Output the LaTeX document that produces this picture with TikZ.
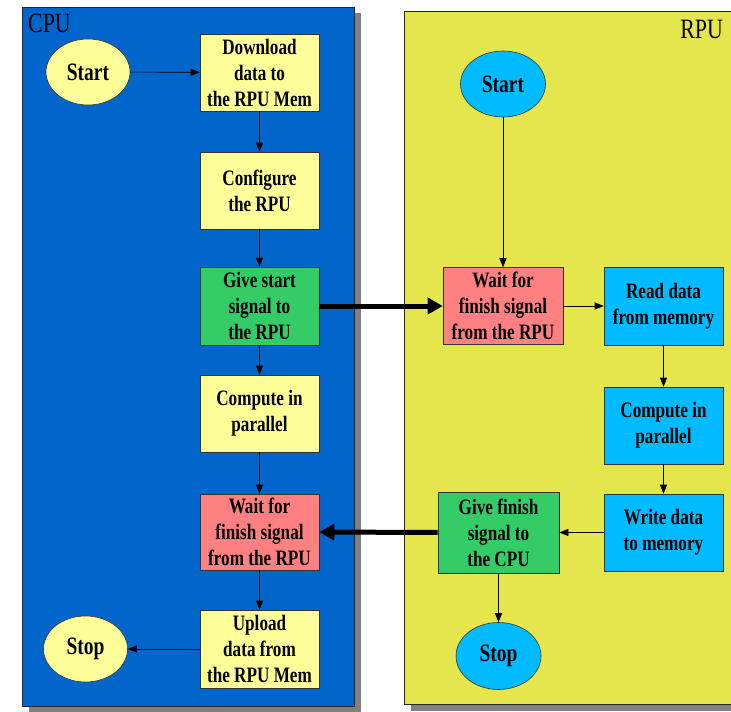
\documentclass[tikz,border=0pt]{standalone}
\usepackage{fontspec}
\setmainfont{Liberation Serif}[FakeStretch=0.78]
\usetikzlibrary{arrows.meta,shapes.geometric}

\definecolor{cpublue}{RGB}{0,102,204}
\definecolor{rpuyellow}{RGB}{229,229,76}
\definecolor{paleyellow}{RGB}{255,255,153}
\definecolor{stepgreen}{RGB}{51,204,102}
\definecolor{steppink}{RGB}{255,128,128}
\definecolor{stepcyan}{RGB}{0,187,255}
\definecolor{shadowgray}{RGB}{128,128,128}

\tikzset{
  boxtext/.style={font=\fontsize{22}{26}\selectfont\bfseries, align=center, inner sep=0pt},
  stepbox/.style={boxtext, draw=black!80, line width=0.6pt, rectangle,
    minimum width=119pt, minimum height=77pt},
  oval/.style={boxtext, draw=black!80, line width=0.6pt, ellipse,
    minimum width=84pt, minimum height=66pt, font=\fontsize{25}{28}\selectfont\bfseries},
  flow/.style={draw=black, line width=0.6pt, -{Triangle[length=9pt,width=7pt]}},
  signal/.style={draw=black, line width=5pt, -{Triangle[length=15pt,width=16pt]}},
  panel/.style={draw=black!85, line width=0.6pt},
  paneltitle/.style={font=\fontsize{28}{30}\selectfont, inner sep=0pt}
}

\begin{document}
\begin{tikzpicture}[x=1pt,y=-1pt]
\useasboundingbox (0,0) rectangle (731,712);

% processor panels with drop shadows
\fill[shadowgray] (29,13) rectangle (361,712);
\fill[cpublue] (22,7) rectangle (354,706);
\draw[panel] (22,7) rectangle (354,706);
\fill[shadowgray] (411,17) rectangle (740,711);
\fill[rpuyellow] (404,11) rectangle (740,704);
\draw[panel] (404,11) -- (404,704) -- (740,704);
\draw[panel] (404,11) -- (740,11);

\node[paneltitle, anchor=north west] (cputitle) at (28,14) {CPU};
\node[paneltitle, anchor=north east] (rputitle) at (723,20) {RPU};

% host side
\node[oval, fill=paleyellow] (cstart) at (88,72) {Start};
\node[stepbox, fill=paleyellow] (dl) at (259.5,72.5) {Download\\data to\\the RPU Mem};
\node[stepbox, fill=paleyellow] (cfg) at (259.5,190.5) {Configure\\the RPU};
\node[stepbox, fill=stepgreen, minimum height=78pt] (gs) at (259.5,306) {Give start\\signal to\\the RPU};
\node[stepbox, fill=paleyellow] (ccmp) at (259.5,413.5) {Compute in\\parallel};
\node[stepbox, fill=steppink, minimum height=76pt] (cwait) at (259.5,532) {Wait for\\finish signal\\from the RPU};
\node[stepbox, fill=paleyellow, minimum height=78pt] (up) at (259.5,649) {Upload\\data from\\the RPU Mem};
\node[oval, fill=paleyellow] (cstop) at (85.5,649) {Stop};

% accelerator side
\node[oval, fill=stepcyan, minimum width=85pt] (rstart) at (503,84) {Start};
\node[stepbox, fill=steppink, minimum width=120pt] (rwait) at (503,306) {Wait for\\finish signal\\from the RPU};
\node[stepbox, fill=stepcyan, minimum height=78pt] (rd) at (663.5,306) {Read data\\from memory};
\node[stepbox, fill=stepcyan] (rcmp) at (663.5,425.5) {Compute in\\parallel};
\node[stepbox, fill=stepcyan] (wr) at (663.5,532.5) {Write data\\to memory};
\node[stepbox, fill=stepgreen, minimum width=121pt, minimum height=81pt] (gf) at (498.5,532.5) {Give finish\\signal to\\the CPU};
\node[oval, fill=stepcyan, minimum width=85pt, minimum height=67pt] (rstop) at (498.5,656) {Stop};

% host flow
\draw[flow] (cstart) -- (dl);
\draw[flow] (dl) -- (cfg);
\draw[flow] (cfg) -- (gs);
\draw[flow] (gs) -- (ccmp);
\draw[flow] (ccmp) -- (cwait);
\draw[flow] (cwait) -- (up);
\draw[flow] (up) -- (cstop);

% accelerator flow
\draw[flow] (rstart) -- (rwait);
\draw[flow] (rwait) -- (rd);
\draw[flow] (rd) -- (rcmp);
\draw[flow] (rcmp) -- (wr);
\draw[flow] (wr) -- (gf);
\draw[flow] (gf) -- (rstop);

% handshake signals between the processors
\draw[signal] (gs) -- (rwait);
\draw[signal] (gf) -- (cwait);
\end{tikzpicture}
\end{document}
